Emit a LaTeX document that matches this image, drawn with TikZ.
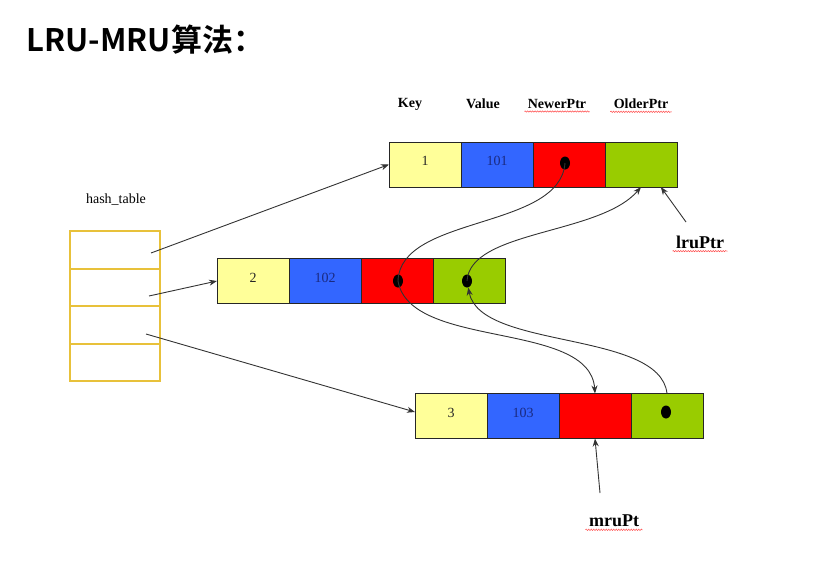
\documentclass[tikz,border=0pt]{standalone}
\usepackage{fontspec}
\setmainfont{Liberation Serif}
\newfontfamily\titlefont{Noto Sans CJK SC Bold}
\usetikzlibrary{positioning,calc,arrows.meta,shapes.geometric,decorations.pathmorphing}
\definecolor{keyyellow}{HTML}{FFFF99}
\definecolor{valblue}{HTML}{3366FF}
\definecolor{newred}{HTML}{FF0000}
\definecolor{oldgreen}{HTML}{99CC00}
\definecolor{hashgold}{HTML}{E8C13A}
\definecolor{valtext}{HTML}{1A2A80}
\begin{document}
\begin{tikzpicture}[x=1pt, y=-1pt,
  cell/.style={draw=black!85, line width=0.9pt, minimum width=72pt, minimum height=45pt,
    inner sep=0pt, outer sep=0pt, font=\fontsize{14}{14}\selectfont},
  keycell/.style={cell, fill=keyyellow, text=black!85},
  valcell/.style={cell, fill=valblue, text=valtext},
  newcell/.style={cell, fill=newred},
  oldcell/.style={cell, fill=oldgreen},
  hashcell/.style={draw=hashgold, line width=1.8pt, minimum width=90pt, minimum height=37.5pt,
    inner sep=0pt, outer sep=0pt},
  dot/.style={ellipse, fill=black, minimum width=10pt, minimum height=13pt, inner sep=0pt},
  link/.style={draw=black!80, line width=0.9pt, -{Stealth[length=8pt,width=6pt]}},
  curve/.style={draw=black!80, line width=0.9pt},
  head/.style={font=\bfseries\fontsize{14}{14}\selectfont},
  ptrname/.style={font=\bfseries\fontsize{18}{18}\selectfont},
  wavy/.style={red!70, line width=0.5pt, decorate, decoration={snake, amplitude=0.7pt, segment length=2.5pt}}]
\useasboundingbox (0,0) rectangle (814,581);
% title
\node[anchor=west, font=\titlefont\fontsize{31}{31}\selectfont] (title) at (23,40) {LRU-MRU算法：};
% field names
\node[head] (hkey) at (410,104) {Key};
\node[head] (hval) at (483,104) {Value};
\node[head] (hnew) at (557,104) {NewerPtr};
\node[head] (hold) at (641,104) {OlderPtr};
\draw[wavy] ([yshift=-3pt]hnew.base west) -- ([yshift=-3pt]hnew.base east);
\draw[wavy] ([yshift=-3pt]hold.base west) -- ([yshift=-3pt]hold.base east);
% hash table
\node[font=\fontsize{14}{14}\selectfont] (hlabel) at (116,200) {hash\_table};
\node[hashcell] (h1) at (115,250) {};
\node[hashcell, below=0pt of h1] (h2) {};
\node[hashcell, below=0pt of h2] (h3) {};
\node[hashcell, below=0pt of h3] (h4) {};
% entry 1
\node[keycell] (k1) at (425,164.5) {\raisebox{7pt}{1}};
\node[valcell, right=0pt of k1] (v1) {\raisebox{7pt}{101}};
\node[newcell, right=0pt of v1] (n1) {};
\node[oldcell, right=0pt of n1] (o1) {};
% entry 2
\node[keycell] (k2) at (253,281) {\raisebox{7pt}{2}};
\node[valcell, right=0pt of k2] (v2) {\raisebox{7pt}{102}};
\node[newcell, right=0pt of v2] (n2) {};
\node[oldcell, right=0pt of n2] (o2) {};
% entry 3
\node[keycell] (k3) at (451,416) {\raisebox{7pt}{3}};
\node[valcell, right=0pt of k3] (v3) {\raisebox{7pt}{103}};
\node[newcell, right=0pt of v3] (n3) {};
\node[oldcell, right=0pt of n3] (o3) {};
% pointer dots
\node[dot] (d1) at (565,163) {};
\node[dot] (d2) at (398,281) {};
\node[dot] (d3) at (467,281) {};
\node[dot] (d4) at (666,412) {};
% hash buckets to entries
\coordinate (b1) at (151,253);
\coordinate (b2) at (149,296);
\coordinate (b3) at (146,334);
\draw[link] (b1) -- (k1.west);
\draw[link] (b2) -- (k2.west);
\draw[link] (b3) -- ([yshift=4pt]k3.west);
% list links
\draw[curve] (d1.center) .. controls (560,230) and (400,215) .. (d2.center);
\draw[link] (d2.center) .. controls (410,350) and (590,320) .. (n3.north);
\draw[link] (o3.north) .. controls (660,330) and (480,350) .. (d3);
\draw[link] (d3.center) .. controls (470,230) and (600,235) .. (o1.south);
% lru / mru pointers
\node[ptrname] (lru) at (700,242) {lruPtr};
\node[ptrname] (mru) at (614,521) {mruPt};
\draw[wavy] ([yshift=-3pt]lru.base west) -- ([yshift=-3pt]lru.base east);
\draw[wavy] ([yshift=-3pt]mru.base west) -- ([yshift=-3pt]mru.base east);
\coordinate (lrutail) at (686,222);
\coordinate (mrutail) at (600,493);
\draw[link] (lrutail) -- ($(o1.south)!0.55!(o1.south east)$);
\draw[link] (mrutail) -- (n3.south);
\end{tikzpicture}
\end{document}
